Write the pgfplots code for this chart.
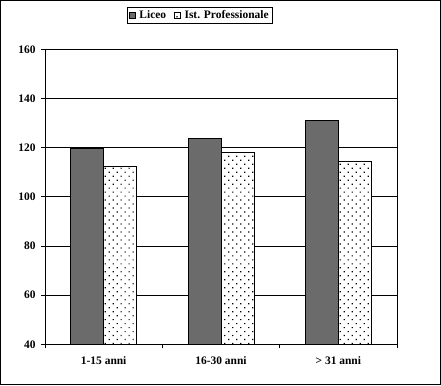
\documentclass[border=0pt]{standalone}
\usepackage{fontspec}
\setmainfont{Liberation Serif}
\usepackage{pgfplots}
\pgfplotsset{compat=1.18}
\usetikzlibrary{patterns}
\pgfdeclarepatternformonly{ptdots}{\pgfqpoint{-0.1pt}{-0.1pt}}{\pgfqpoint{8.1pt}{8.1pt}}{\pgfqpoint{8pt}{8pt}}{%
  \pgfpathrectangle{\pgfqpoint{1pt}{1pt}}{\pgfqpoint{1.2pt}{1.2pt}}%
  \pgfpathrectangle{\pgfqpoint{5pt}{5pt}}{\pgfqpoint{1.2pt}{1.2pt}}%
  \pgfusepath{fill}}
\begin{document}
\begin{tikzpicture}[x=1bp,y=1bp]
\useasboundingbox (0,0) rectangle (441,385);
\draw[line width=1bp] (0.5,0.5) rectangle (440.5,384.5);
\begin{axis}[
  at={(45bp,40.7bp)}, anchor=south west,
  scale only axis, width=352bp, height=295bp,
  ybar=0pt, bar width=33bp,
  xmin=-0.5, xmax=2.5, ymin=40, ymax=160,
  ytick={40,60,...,160},
  xtick={0,1,2},
  xticklabels={1-15 anni,16-30 anni,> 31 anni},
  minor xtick={-0.5,0.5,1.5,2.5},
  major x tick style={draw=none},
  tick align=outside, xtick pos=bottom, ytick pos=left,
  major tick length=4bp, minor tick length=4bp,
  tick style={black, line width=0.8bp},
  ymajorgrids, grid style={black, line width=0.8bp},
  axis line style={line width=0.8bp},
  /pgf/number format/assume math mode=true,
  ticklabel style={font=\fontsize{11.5}{13}\selectfont\bfseries},
  yticklabel style={xshift=-2bp},
  xticklabel style={yshift=-5bp},
  legend columns=2,
  legend style={at={(0.44,1.145)}, anchor=north, draw=black, line width=0.8bp,
    font=\fontsize{11.5}{13}\selectfont\bfseries, inner sep=1.5bp,
    /tikz/every even column/.append style={column sep=6bp},
    /tikz/every odd column/.append style={column sep=2bp}},
  legend image code/.code={\draw[#1, line width=0.4bp] (0bp,-3bp) rectangle (6bp,3bp);},
]
\addplot[draw=black, line width=0.8bp, fill=black!58] coordinates {(0,119.5) (1,123.8) (2,131.1)};
\addplot[draw=black, line width=0.8bp, fill=white, postaction={pattern=ptdots}] coordinates {(0,112.4) (1,118.1) (2,114.5)};
\legend{Liceo, Ist. Professionale}
\end{axis}
\end{tikzpicture}
\end{document}
